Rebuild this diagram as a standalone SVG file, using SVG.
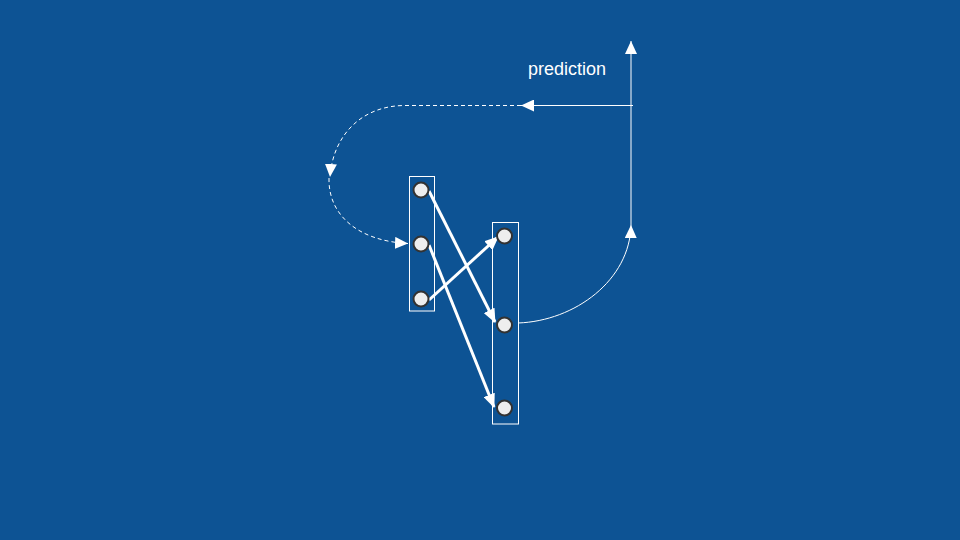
<svg xmlns="http://www.w3.org/2000/svg" width="960" height="540" viewBox="0 0 960 540">
<style>
.box{fill:none;stroke:#ffffff;stroke-width:1}
.node{fill:#eeeeee;stroke:#333333;stroke-width:2}
.thick{fill:none;stroke:#ffffff;stroke-width:3}
.thin{fill:none;stroke:#ffffff;stroke-width:1}
.dash{fill:none;stroke:#ffffff;stroke-width:1;stroke-dasharray:4 3}
.lbl{font-family:"Liberation Sans",Arial,sans-serif;font-size:18px;fill:#ffffff}
</style>
<defs>
<marker id="ah" viewBox="0 0 14 12" refX="13" refY="6" markerWidth="14" markerHeight="12" markerUnits="userSpaceOnUse" orient="auto">
<path d="M0,0 L14,6 L0,12 Z" fill="#ffffff"/>
</marker>
<marker id="ahs" viewBox="0 0 13 12" refX="13" refY="6" markerWidth="13" markerHeight="12" markerUnits="userSpaceOnUse" orient="auto">
<path d="M0,0 L13,6 L0,12 Z" fill="#ffffff"/>
</marker>
</defs>
<rect width="960" height="540" fill="#0d5394"/>
<g id="layer-left"><rect class="box" x="409.5" y="176.5" width="25" height="134.5"/></g>
<g id="layer-right"><rect class="box" x="492.5" y="222.5" width="26" height="201.5"/></g>
<g id="connectors">
<line class="thick" x1="429" y1="191" x2="495" y2="322" marker-end="url(#ah)"/>
<line class="thick" x1="429" y1="245" x2="494" y2="407" marker-end="url(#ah)"/>
<line class="thick" x1="429" y1="300" x2="498" y2="237" marker-end="url(#ah)"/>
<path class="thin" d="M518,323 C575,321 630,280 631,225" marker-end="url(#ahs)"/>
<line class="thin" x1="631" y1="225" x2="631" y2="41" marker-end="url(#ahs)"/>
<line class="thin" x1="633" y1="105.5" x2="521" y2="105.5" marker-end="url(#ahs)"/>
<path class="dash" d="M521,105.5 L405,105.5 C362,105.5 333,135 330,177" marker-end="url(#ahs)"/>
<path class="dash" d="M329,178 C328,215 358,241 408,243.5" marker-end="url(#ahs)"/>
</g>
<g id="n1"><circle class="node" cx="421" cy="190" r="7.5"/></g>
<g id="n2"><circle class="node" cx="421" cy="244" r="7.5"/></g>
<g id="n3"><circle class="node" cx="421" cy="299" r="7.5"/></g>
<g id="n4"><circle class="node" cx="504.5" cy="236" r="7.5"/></g>
<g id="n5"><circle class="node" cx="504.5" cy="325" r="7.5"/></g>
<g id="n6"><circle class="node" cx="504.5" cy="408" r="7.5"/></g>
<g id="label"><text class="lbl" x="567" y="75" text-anchor="middle">prediction</text></g>
</svg>
